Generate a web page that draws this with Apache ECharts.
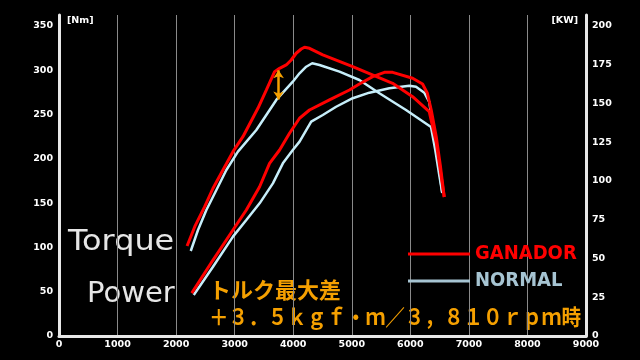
<!DOCTYPE html>
<html><head><meta charset="utf-8">
<script src="https://cdn.jsdelivr.net/npm/echarts@6/dist/echarts.min.js"></script>
<style>html,body{margin:0;padding:0;background:#000}#c{width:640px;height:360px}</style>
</head><body><div id="c"></div>
<script>
// ---- data (rpm / Nm / kW) ----
const ganadorTorqueRpm = [2187,2318,2488,2630,2800,2971,3141,3397,3540,3682,3767,3881,3966,4051,4136,4193,4278,4505,5016,5698,6039,6323,6443,6511,6579];
const ganadorTorqueNm  = [101.6,123.4,146.0,166.8,187.4,208.1,225.0,257.1,277.7,298.4,302.2,306.0,311.6,319.2,324.0,326.0,324.8,317.3,304.0,285.3,270.2,253.2,217.9,187.4,156.9];
const normalTorqueRpm  = [2250,2374,2517,2688,2858,3056,3370,3711,3993,4108,4222,4324,4449,4790,5130,5471,5926,6353,6426,6494,6545];
const normalTorqueNm   = [96.0,119.7,142.3,164.9,187.4,208.1,232.6,266.5,287.1,296.6,304.0,307.9,306.0,298.4,289.0,274.0,255.2,236.0,210.0,181.8,161.5];
const ganadorPowerRpm  = [2267,2630,2971,3199,3426,3596,3767,3937,4108,4278,4619,4960,5130,5357,5557,5698,6039,6209,6289,6357,6443,6511,6579];
const ganadorPowerKw   = [27.7,49.0,68.4,81.3,96.3,111.4,120.0,130.8,140.5,145.8,152.3,158.7,162.6,167.3,170.1,170.1,166.3,162.6,156.8,145.8,128.4,110.3,89.7];
const normalPowerRpm   = [2301,2630,2971,3199,3426,3653,3823,3993,4108,4307,4505,4733,5016,5301,5642,5983,6097,6238,6323,6380,6443,6494,6545];
const normalPowerKw    = [26.5,44.7,64.1,74.8,85.6,98.5,111.4,120.0,125.4,138.3,142.6,147.9,153.4,157.0,159.8,161.5,160.8,157.0,151.0,137.2,123.2,107.1,92.3];
// max torque difference marker (rpm, Nm from / to)
const diffRpm = 3750;
const diffFromNm = 300;
const diffToNm = 267;
const seriesNames = ['GANADOR', 'NORMAL'];
const unitLeft = '[Nm]';
const unitRight = '[KW]';
const noteLine1 = 'トルク最大差';
const noteLine2 = '＋３．５ｋｇｆ・ｍ／３，８１０ｒｐｍ時';

const zip = (a, b) => a.map((v, i) => [v, b[i]]);
const RED = '#ff0000', CYAN = '#c6eefa', CYAN_LEG = '#a6c4d2', ORANGE = '#f5a000';
const labelFont = { color: '#ffffff', fontSize: 9.5, fontWeight: 'bold', fontFamily: 'DejaVu Sans' };

const chart = echarts.init(document.getElementById('c'));
chart.setOption({
  backgroundColor: '#000',
  animation: false,
  grid: { left: 59, right: 54, top: 15, bottom: 24 },
  xAxis: {
    type: 'value', min: 0, max: 9000, interval: 1000,
    axisLine: { show: true, lineStyle: { color: '#e8e8e8', width: 3 } },
    axisTick: { show: false },
    splitLine: { show: true, lineStyle: { color: '#8a8a8a', width: 1 } },
    axisLabel: Object.assign({ margin: 4, fontSize: 10, formatter: v => String(v) }, labelFont)
  },
  yAxis: [{
    type: 'value', min: 0, max: 362.4, interval: 50,
    axisLine: { show: true, lineStyle: { color: '#e8e8e8', width: 3 } },
    axisTick: { show: false }, splitLine: { show: false },
    axisLabel: Object.assign({ margin: 6, showMaxLabel: false }, labelFont)
  }, {
    type: 'value', min: 0, max: 207.1, interval: 25, position: 'right',
    axisLine: { show: true, lineStyle: { color: '#e8e8e8', width: 3 } },
    axisTick: { show: false }, splitLine: { show: false },
    axisLabel: Object.assign({ margin: 6, showMaxLabel: false }, labelFont)
  }],
  legend: {
    orient: 'vertical', left: 403, top: 236, itemWidth: 62, itemHeight: 12, itemGap: 1,
    icon: 'path://M0,5 L62,5 L62,8 L0,8 Z',
    textStyle: { fontFamily: '"DejaVu Sans Condensed", "Liberation Sans", sans-serif', fontWeight: 'bold', fontSize: 20, lineHeight: 26, padding: [0, 0, 0, 0] },
    data: [
      { name: seriesNames[0], itemStyle: { color: RED }, textStyle: { color: RED } },
      { name: seriesNames[1], itemStyle: { color: CYAN_LEG }, textStyle: { color: CYAN_LEG } }
    ]
  },
  series: [
    { name: seriesNames[1], type: 'line', yAxisIndex: 0, data: zip(normalTorqueRpm, normalTorqueNm), symbol: 'none', lineStyle: { color: CYAN, width: 2.5 }, itemStyle: { color: CYAN } },
    { name: seriesNames[1], type: 'line', yAxisIndex: 1, data: zip(normalPowerRpm, normalPowerKw), symbol: 'none', lineStyle: { color: CYAN, width: 2.5 }, itemStyle: { color: CYAN } },
    { name: seriesNames[0], type: 'line', yAxisIndex: 1, data: zip(ganadorPowerRpm, ganadorPowerKw), symbol: 'none', lineStyle: { color: RED, width: 3 }, itemStyle: { color: RED } },
    { name: seriesNames[0], type: 'line', yAxisIndex: 0, data: zip(ganadorTorqueRpm, ganadorTorqueNm), symbol: 'none', lineStyle: { color: RED, width: 3 }, itemStyle: { color: RED },
      markLine: {
        silent: true, symbol: ['arrow', 'arrow'], symbolSize: [8, 8], label: { show: false },
        lineStyle: { color: ORANGE, width: 2.5, type: 'solid' },
        data: [[{ coord: [diffRpm, diffFromNm] }, { coord: [diffRpm, diffToNm] }]]
      } }
  ],
  graphic: [
    { type: 'text', left: 67, top: 16, style: { text: unitLeft, fill: '#fff', font: 'bold 9.5px "DejaVu Sans"' } },
    { type: 'text', right: 62, top: 16, style: { text: unitRight, fill: '#fff', font: 'bold 9.5px "DejaVu Sans"' } },
    { type: 'text', x: 68, y: 228, scaleX: 1.1, style: { text: 'Torque', fill: '#e6e6e6', font: '29px "DejaVu Sans"' } },
    { type: 'text', left: 87, top: 280, style: { text: 'Power', fill: '#e6e6e6', font: '29px "DejaVu Sans"' } },
    { type: 'text', left: 209, top: 279, style: { text: noteLine1, fill: ORANGE, font: 'bold 22px "Noto Sans CJK JP"' } },
    { type: 'text', x: 209, y: 306, scaleX: 0.89, style: { text: noteLine2, fill: ORANGE, font: 'bold 22px "Noto Sans CJK JP"' } }
  ]
});
</script></body></html>
